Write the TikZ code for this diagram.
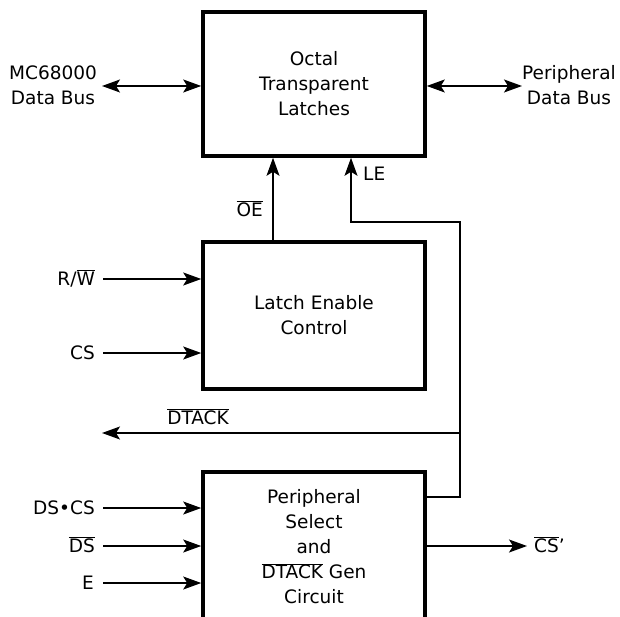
\documentclass[tikz,border=0pt]{standalone}
\usepackage{fontspec}
\setmainfont{DejaVu Sans}
\usetikzlibrary{arrows.meta}
\newcommand{\ob}[1]{$\overline{\mbox{#1}}$}
\begin{document}
\begin{tikzpicture}[x=1pt,y=-1pt,
  font=\fontsize{18.5}{25}\selectfont,
  blk/.style={draw, line width=3.6pt, minimum width=222pt, inner sep=0pt, align=center},
  lbl/.style={inner sep=0pt, align=center},
  arr/.style={line width=1.3pt, -{Stealth[length=18pt,width=13pt,inset=4pt]}},
  barr/.style={line width=1.3pt, {Stealth[length=18pt,width=13pt,inset=4pt]}-{Stealth[length=18pt,width=13pt,inset=4pt]}},
  wire/.style={line width=1.3pt}]
\useasboundingbox (0,0) rectangle (620,617);
\clip (0,0) rectangle (620,617);
\fill[white] (0,0) rectangle (620,617);
% blocks
\node[blk, minimum height=144pt] (otl) at (314,84) {Octal\\Transparent\\Latches};
\node[blk, minimum height=147pt] (lec) at (314,315.5) {Latch Enable\\Control};
\node[blk, minimum height=150pt] (psd) at (314,547) {Peripheral\\Select\\and\\\ob{DTACK} Gen\\Circuit};
% bus labels
\node[lbl] (mcl) at (53,85) {MC68000\\Data Bus};
\node[lbl] (pdl) at (569,85) {Peripheral\\Data Bus};
\coordinate (mcend) at (102,86);
\coordinate (pdend) at (522,86);
\draw[barr] (mcend) -- (mcend -| otl.west);
\draw[barr] (pdend -| otl.east) -- (pdend);
% OE
\coordinate (oex) at (273,0);
\draw[arr] (oex |- lec.north) -- (oex |- otl.south);
\node[lbl, anchor=base east] (oel) at (263,216.5) {\ob{OE}};
% LE
\coordinate (le1) at (460,497);
\coordinate (le2) at (460,222);
\coordinate (lex) at (351,222);
\draw[arr] (le1 -| psd.east) -- (le1) -- (le2) -- (lex) -- (lex |- otl.south);
\node[lbl, anchor=base west] (lel) at (363,180.5) {LE};
% DTACK
\coordinate (dtj) at (460,433);
\coordinate (dtend) at (102,433);
\draw[arr] (dtj) -- (dtend);
\node[lbl, anchor=base] (dtl) at (198,424.5) {\ob{DTACK}};
% inputs to latch enable control
\coordinate (rwin) at (103,279);
\coordinate (csin) at (103,353);
\draw[arr] (rwin) -- (rwin -| lec.west);
\draw[arr] (csin) -- (csin -| lec.west);
\node[lbl, anchor=base east] (rwl) at (95,285.5) {R/\ob{W}};
\node[lbl, anchor=base east] (csl) at (95,359.5) {CS};
% inputs to peripheral select
\coordinate (dscsin) at (103,508);
\coordinate (dsin) at (103,546);
\coordinate (ein) at (103,583);
\draw[arr] (dscsin) -- (dscsin -| psd.west);
\draw[arr] (dsin) -- (dsin -| psd.west);
\draw[arr] (ein) -- (ein -| psd.west);
\node[lbl, anchor=base east] (dscsl) at (95,514.5) {DS•CS};
\node[lbl, anchor=base east] (dsl) at (95,552.5) {\ob{DS}};
\node[lbl, anchor=base east] (el) at (94,589.5) {E};
% CS' output
\coordinate (csout) at (527,546);
\draw[arr] (csout -| psd.east) -- (csout);
\node[lbl, anchor=base west] (csol) at (534,552.5) {\ob{CS}’};
\end{tikzpicture}
\end{document}
